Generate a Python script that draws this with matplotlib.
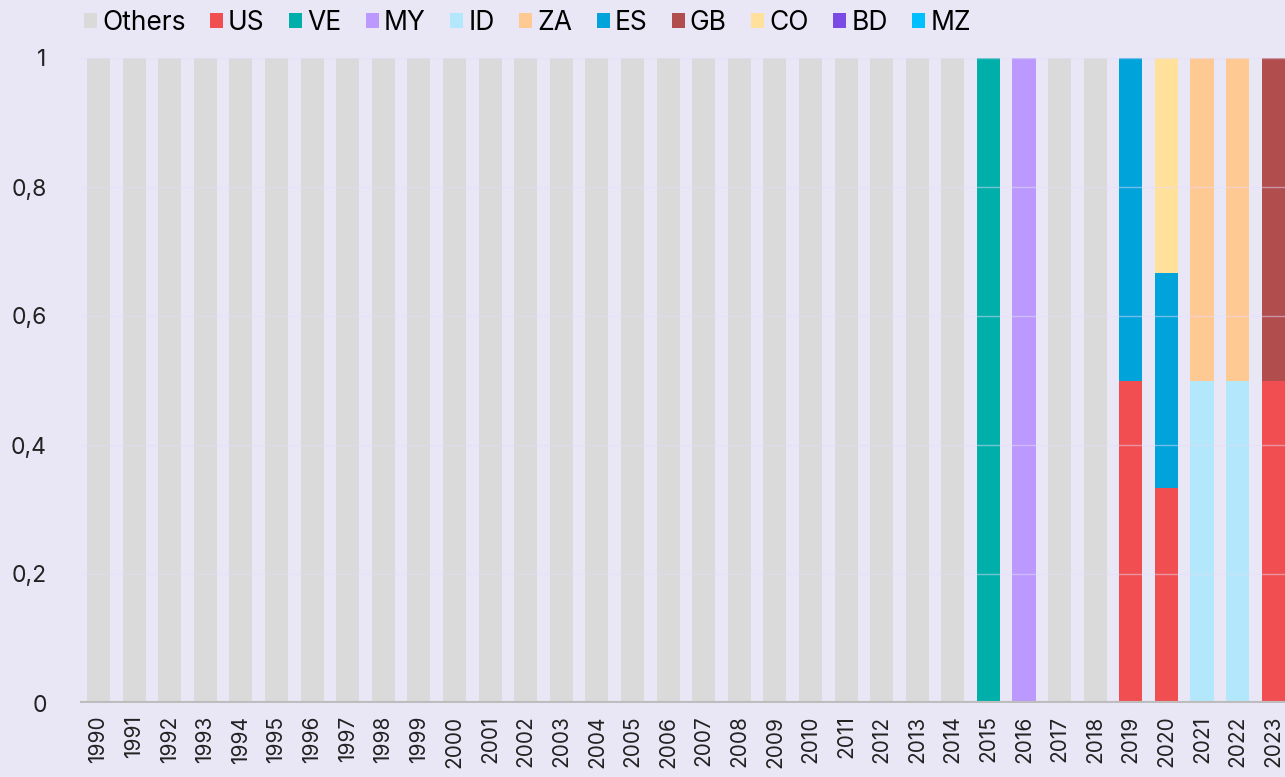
import numpy as np
import matplotlib.pyplot as plt

# 年份与各国份额
years = list(range(1990, 2024))
countries = ["Others", "US", "VE", "MY", "ID", "ZA", "ES", "GB", "CO", "BD", "MZ"]
colors = ["#DADADA", "#F04E50", "#00AFAA", "#BB99FF", "#B3E7FB", "#FFC994",
          "#00A3DA", "#B24D4D", "#FFE19B", "#7B4AE6", "#00BFFF"]

others = [1] * 25 + [0, 0, 1, 1, 0, 0, 0, 0, 0]
us = [0] * 29 + [0.5, 1 / 3, 0, 0, 0.5]
ve = [0] * 25 + [1, 0, 0, 0, 0, 0, 0, 0, 0]
my = [0] * 25 + [0, 1, 0, 0, 0, 0, 0, 0, 0]
id_ = [0] * 29 + [0, 0, 0.5, 0.5, 0]
za = [0] * 29 + [0, 0, 0.5, 0.5, 0]
es = [0] * 29 + [0.5, 1 / 3, 0, 0, 0]
gb = [0] * 29 + [0, 0, 0, 0, 0.5]
co = [0] * 29 + [0, 1 / 3, 0, 0, 0]
bd = [0] * 34
mz = [0] * 34
series = [others, us, ve, my, id_, za, es, gb, co, bd, mz]

bg = "#E9E7F6"
plt.rcParams['font.family'] = ['Inter', 'DejaVu Sans']

fig = plt.figure(figsize=(12.85, 7.77), dpi=100, facecolor=bg)
ax = fig.add_axes([80 / 1285, 74 / 777, 1 - 80 / 1285, 645 / 777])
ax.set_facecolor(bg)

x = np.arange(len(years))
bottom = np.zeros(len(years))
for name, vals, c in zip(countries, series, colors):
    vals = np.array(vals, dtype=float)
    ax.bar(x, vals, 0.65, bottom=bottom, color=c, label=name, zorder=2)
    bottom += vals

# 网格线
for yv in [0.2, 0.4, 0.6, 0.8, 1.0]:
    ax.axhline(yv, color="#E4DDFA", lw=1, alpha=0.5, zorder=3)
ax.axhline(0, color="#BDBDBD", lw=3, zorder=4)

ax.set_xlim(-0.52, 33.33)
ax.set_ylim(0, 1)
ax.set_xticks(x)
ax.set_xticklabels([str(y) for y in years], rotation=90, fontsize=15, color="#222222")
ax.set_yticks([0, 0.2, 0.4, 0.6, 0.8, 1])
ax.set_yticklabels(["0", "0,2", "0,4", "0,6", "0,8", "1"], fontsize=16.5, color="#222222")
ax.tick_params(length=0, pad=9)
ax.tick_params(axis='y', pad=24)
for s in ax.spines.values():
    s.set_visible(False)

handles, labels = ax.get_legend_handles_labels()
fig.legend(handles, labels, loc="center left", bbox_to_anchor=(84 / 1285, 1 - 23 / 777),
           ncol=11, frameon=False, fontsize=19, handlelength=0.5, handleheight=0.5,
           handletextpad=0.18, columnspacing=0.93, borderaxespad=0, borderpad=0)

fig.savefig("out.png", dpi=100, facecolor=bg)
